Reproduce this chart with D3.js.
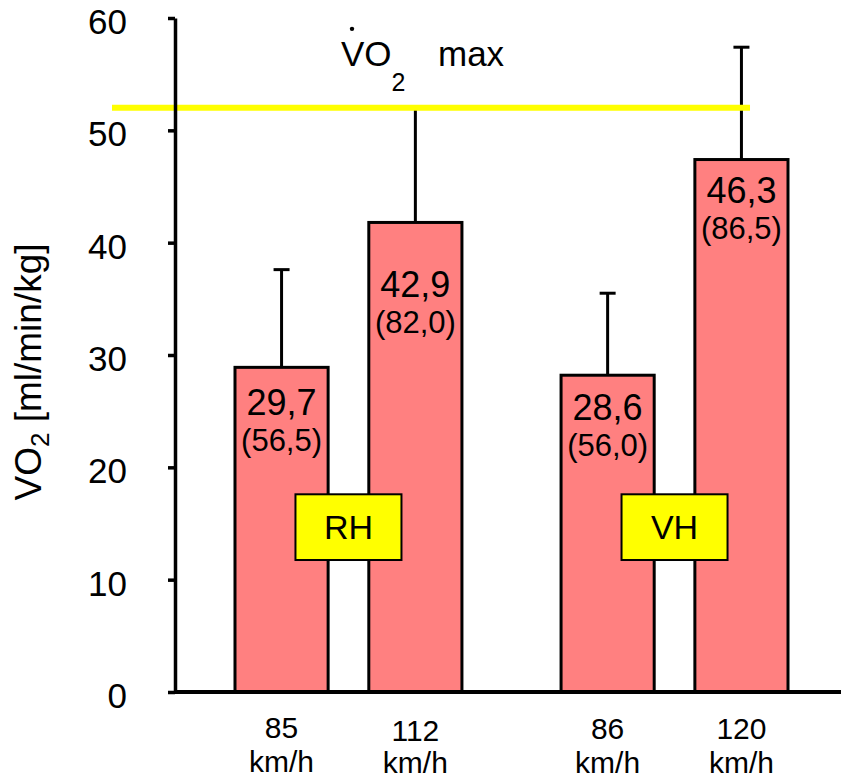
<!DOCTYPE html>
<html>
<head>
<meta charset="utf-8">
<script src="https://cdn.jsdelivr.net/npm/d3@7"></script>
<style>
  body { margin: 0; background: #fff; }
  svg text { font-family: "Liberation Sans", Arial, sans-serif; fill: #000; }
</style>
</head>
<body>
<div id="chart"></div>
<script>
// speeds (x categories) and which group each bar belongs to
const speeds = ["85", "112", "86", "120"];
const speedUnit = "km/h";
const groupOf = ["RH", "RH", "VH", "VH"];
const groupNames = ["RH", "VH"];

// bar heights and error bar (sd)
const barValues = [28.9, 41.8, 28.2, 47.4];
const sdValues = [8.7, 10.3, 7.3, 10.0];

// printed labels inside the bars
const meanLabels = ["29,7", "42,9", "28,6", "46,3"];
const pctLabels = ["(56,5)", "(82,0)", "(56,0)", "(86,5)"];

const yTicks = [0, 10, 20, 30, 40, 50, 60];
const vo2max = 52;

const width = 841, height = 781;
const margin = {top: 18, right: 0, bottom: 89, left: 175};

let svg = d3.select("#chart").append("svg")
    .attr("width", width)
    .attr("height", height);

let yScale = d3.scaleLinear()
    .domain([0, 60])
    .range([height - margin.bottom, margin.top]);

//outer scale for the two groups, inner for the bars in a group
let xGroup = d3.scaleBand()
    .domain(groupNames)
    .range([margin.left, 848])
    .paddingInner(0.304)
    .paddingOuter(0.184);

let xInner = d3.scaleBand()
    .domain([0, 1])
    .range([0, xGroup.bandwidth()])
    .paddingInner(0.304);

let bars = speeds.map((s, i) => {
    let pos = groupOf.slice(0, i).filter(g => g == groupOf[i]).length;
    return {
        speed: s,
        group: groupOf[i],
        value: barValues[i],
        sd: sdValues[i],
        mean: meanLabels[i],
        pct: pctLabels[i],
        x: xGroup(groupOf[i]) + xInner(pos),
        i: i
    };
});
let bw = xInner.bandwidth();

//Error bars (drawn first so bars cover the lower part)
let err = svg.append("g").attr("stroke", "#000").attr("stroke-width", 3);
err.selectAll("line.v").data(bars).enter().append("line")
    .attr("x1", d => d.x + bw / 2)
    .attr("x2", d => d.x + bw / 2)
    .attr("y1", d => yScale(d.value))
    .attr("y2", d => yScale(d.value + d.sd));
err.selectAll("line.cap").data(bars).enter().append("line")
    .attr("x1", d => d.x + bw / 2 - 8)
    .attr("x2", d => d.x + bw / 2 + 8)
    .attr("y1", d => yScale(d.value + d.sd))
    .attr("y2", d => yScale(d.value + d.sd));

//VO2 max line
svg.append("line")
    .attr("x1", 112)
    .attr("x2", 750)
    .attr("y1", yScale(vo2max))
    .attr("y2", yScale(vo2max))
    .attr("stroke", "#ffff00")
    .attr("stroke-width", 6);

//Bars
svg.selectAll("rect.bar").data(bars).enter().append("rect")
    .attr("class", "bar")
    .attr("x", d => d.x)
    .attr("y", d => yScale(d.value))
    .attr("width", bw)
    .attr("height", d => yScale(0) - yScale(d.value))
    .attr("fill", "#ff8080")
    .attr("stroke", "#000")
    .attr("stroke-width", 3);

//Labels inside the bars
let labelDrop = [48, 75, 45, 43];
svg.selectAll("text.mean").data(bars).enter().append("text")
    .attr("x", d => d.x + bw / 2)
    .attr("y", d => yScale(d.value) + labelDrop[d.i])
    .attr("text-anchor", "middle")
    .style("font-size", "36px")
    .text(d => d.mean);
svg.selectAll("text.pct").data(bars).enter().append("text")
    .attr("x", d => d.x + bw / 2)
    .attr("y", d => yScale(d.value) + labelDrop[d.i] + 36)
    .attr("text-anchor", "middle")
    .style("font-size", "31px")
    .text(d => d.pct);

//Group boxes (RH / VH)
let boxW = 106;
let boxes = svg.selectAll("g.box").data(groupNames).enter().append("g");
boxes.append("rect")
    .attr("x", g => xGroup(g) + xGroup.bandwidth() / 2 - boxW / 2)
    .attr("y", yScale(17.6))
    .attr("width", boxW)
    .attr("height", yScale(11.75) - yScale(17.6))
    .attr("fill", "#ffff00")
    .attr("stroke", "#000")
    .attr("stroke-width", 2);
boxes.append("text")
    .attr("x", g => xGroup(g) + xGroup.bandwidth() / 2)
    .attr("y", (yScale(17.6) + yScale(11.75)) / 2 + 12)
    .attr("text-anchor", "middle")
    .style("font-size", "34px")
    .text(g => g);

//y axis
let yAxis = svg.append("g")
    .attr("transform", "translate(" + margin.left + ",0)")
    .call(d3.axisLeft(yScale).tickValues(yTicks).tickSize(7).tickSizeOuter(0).tickPadding(41));
yAxis.select(".domain").attr("stroke-width", 3.5);
yAxis.selectAll(".tick line").attr("stroke-width", 3.5);
yAxis.selectAll(".tick text")
    .attr("dy", "0.44em")
    .style("font-size", "35px")
    .style("font-family", "Liberation Sans, Arial, sans-serif");

//x axis line
svg.append("line")
    .attr("x1", margin.left)
    .attr("x2", width)
    .attr("y1", yScale(0))
    .attr("y2", yScale(0))
    .attr("stroke", "#000")
    .attr("stroke-width", 4);

//x labels (speed + unit)
let xShift = [0, 3, 1, 1];
let xl = svg.selectAll("text.xl").data(bars).enter().append("text")
    .attr("text-anchor", "middle")
    .style("font-size", "30px");
xl.append("tspan")
    .attr("x", d => d.x + bw / 2)
    .attr("y", d => yScale(0) + 46 + xShift[d.i])
    .text(d => d.speed);
xl.append("tspan")
    .attr("x", d => d.x + bw / 2)
    .attr("y", d => yScale(0) + 80 + xShift[d.i] - (d.i == 1 ? 2 : 0))
    .text(speedUnit);

//y title
let yTitle = svg.append("text")
    .attr("transform", "translate(41," + 372 + ") rotate(-90)")
    .attr("text-anchor", "middle")
    .style("font-size", "37px");
yTitle.append("tspan").text("VO");
yTitle.append("tspan").attr("dy", 8).style("font-size", "26px").text("2");
yTitle.append("tspan").attr("dy", -8).text(" [ml/min/kg]");

//VO2 max annotation
let ann = svg.append("text")
    .attr("x", 341)
    .attr("y", yScale(vo2max) - 42)
    .style("font-size", "35px");
ann.append("tspan").text("VO");
ann.append("tspan").attr("dy", 25).style("font-size", "25px").text("2");
ann.append("tspan").attr("x", 438).attr("y", yScale(vo2max) - 42).text("max");
svg.append("circle")
    .attr("cx", 352)
    .attr("cy", yScale(vo2max) - 79)
    .attr("r", 2.2)
    .attr("fill", "#000");
</script>
</body>
</html>
